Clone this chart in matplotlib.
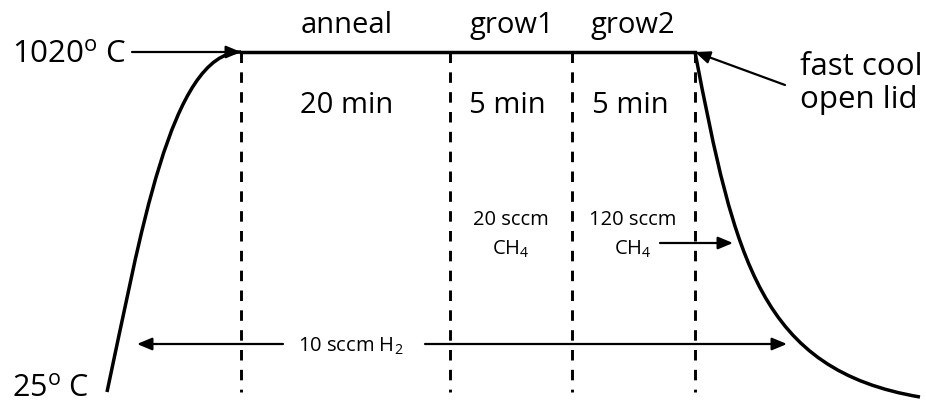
import matplotlib
matplotlib.use("Agg")
import matplotlib.pyplot as plt
from matplotlib.path import Path
from matplotlib.patches import PathPatch

plt.rcParams['font.family'] = ['Open Sans', 'DejaVu Sans']
plt.rcParams['mathtext.fontset'] = 'custom'
plt.rcParams['mathtext.rm'] = 'Open Sans'

# diagram laid out in picture pixels (x right, y down)
PLATEAU_Y = 52
BOTTOM_Y = 392
phase_bounds = [241, 450, 572, 695]
phase_names = ["anneal", "grow1", "grow2"]
phase_name_x = [347, 512, 633]
phase_times = ["20 min", "5 min", "5 min"]
phase_time_x = [347, 507, 630]

flow_labels = ["20 sccm", "120 sccm"]
flow_x = [511, 633]

# heating ramp and cool-down, cubic bezier control points
heat_curve = [(107, 392), (140, 240), (170, 52), (241, 52)]
cool_curve = [(695, 52), (735, 260), (760, 370), (920, 397)]

fig = plt.figure(figsize=(9.26, 4.03), dpi=100)
ax = fig.add_axes([0, 0, 1, 1])
ax.set_xlim(0, 926)
ax.set_ylim(403, 0)
ax.axis('off')

codes = [Path.MOVETO, Path.CURVE4, Path.CURVE4, Path.CURVE4]
for pts in (heat_curve, cool_curve):
    ax.add_patch(PathPatch(Path(pts, codes), fill=False, lw=2.5, color='black', capstyle='butt'))

# plateau
ax.plot([phase_bounds[0], phase_bounds[-1]], [PLATEAU_Y, PLATEAU_Y], color='black', lw=2.5)

# phase boundaries
for x in phase_bounds:
    ax.plot([x, x], [PLATEAU_Y, BOTTOM_Y], color='black', lw=2.1, linestyle=(0, (3.6, 3.2)))

big = 21
for name, x in zip(phase_names, phase_name_x):
    ax.text(x, 33, name, ha='center', va='baseline', fontsize=big)
for t, x in zip(phase_times, phase_time_x):
    ax.text(x, 113, t, ha='center', va='baseline', fontsize=big)

for lab, x in zip(flow_labels, flow_x):
    ax.text(x, 225, lab, ha='center', va='baseline', fontsize=14.5)
    ax.text(x, 255, r"CH$_\mathregular{4}$", ha='center', va='baseline', fontsize=14.5)

ax.text(12, 63, r"1020$^\mathregular{o}$ C", ha='left', va='baseline', fontsize=22.5)
ax.text(12, 397, r"25$^\mathregular{o}$ C", ha='left', va='baseline', fontsize=22)
ax.text(800, 75, "fast cool", ha='left', va='baseline', fontsize=22.5)
ax.text(800, 108, "open lid", ha='left', va='baseline', fontsize=22.5)
ax.text(298, 352, r"10 sccm H$_\mathregular{2}$", ha='left', va='baseline', fontsize=14.5)

arrow = dict(arrowstyle='-|>,head_length=0.6,head_width=0.25', color='black', lw=1.6,
             mutation_scale=15, shrinkA=0, shrinkB=0)
arrows = [((132, 52), (241, 52)),
          ((785, 85), (695, 52)),
          ((660, 243), (733, 243)),
          ((283, 344), (137, 344)),
          ((425, 344), (787, 344))]
for start, end in arrows:
    ax.annotate('', xy=end, xytext=start, arrowprops=arrow)

fig.savefig('out.png', dpi=100)
